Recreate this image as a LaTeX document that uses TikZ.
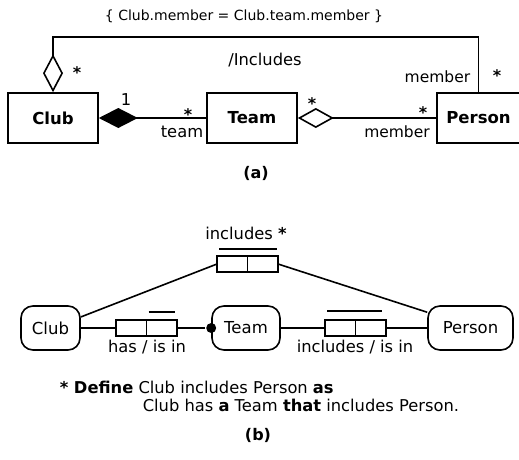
\documentclass[tikz,border=0pt]{standalone}
\usepackage{fontspec}
\setmainfont{DejaVu Sans}
\usetikzlibrary{arrows.meta,positioning}
\begin{document}
\begin{tikzpicture}[x=1pt,y=-1pt,line width=1.6pt,
  cls/.style={draw,minimum width=90pt,minimum height=50pt,inner sep=0pt,
              font=\fontsize{16.5}{18}\selectfont\bfseries},
  obj/.style={draw,rounded corners=12pt,minimum height=44pt,inner sep=0pt,
              font=\fontsize{16.5}{18}\selectfont},
  cell/.style={draw,minimum width=30.5pt,minimum height=16pt,inner sep=0pt,outer sep=0pt},
  lbl/.style={inner sep=0pt,font=\fontsize{16.3}{18}\selectfont},
  star/.style={inner sep=0pt,font=\fontsize{16}{18}\selectfont\bfseries},
  capt/.style={inner sep=0pt,font=\fontsize{16}{18}\selectfont\bfseries},
]
\useasboundingbox (0,0) rectangle (519,460);
\node[lbl,font=\fontsize{14}{16}\selectfont] (rule) at (244,16) {\{ Club.member = Club.team.member \}};
\node[cls] (club) at (53,118) {Club};
\node[cls] (team) at (252,118) {Team};
\node[cls,minimum width=83pt] (person) at (478.5,118) {Person};
\coordinate (incl) at (265,37);
\draw[-{Diamond[open,length=38pt,width=20pt]}] (person.north) |- (incl) -| (club.north);
\draw[{Diamond[length=39pt,width=20pt]}-] (club) -- (team);
\draw[{Diamond[open,length=36pt,width=20pt]}-] (team) -- (person);
\node[star] (s1) at (77,73) {*};
\node[lbl] (inclname) at (265,60) {/Includes};
\node[lbl,anchor=east,font=\fontsize{15.5}{18}\selectfont] (role1) at (471,77) {member};
\node[star] (s2) at (497,76) {*};
\node[lbl] (one) at (126,100) {1};
\node[star] (s3) at (188,115) {*};
\node[lbl] (role2) at (182,132) {team};
\node[star] (s4) at (312,104) {*};
\node[star] (s5) at (423,113) {*};
\node[lbl,font=\fontsize{15.5}{18}\selectfont] (role3) at (397,132) {member};
\node[capt] (capa) at (256,173) {(a)};

\node[lbl] (inctxt) at (246,233) {includes \textbf{*}};
\node[cell] (incA) at (232.25,264) {};
\node[cell,right=0pt of incA] (incB) {};
\draw ([xshift=2pt,yshift=7pt]incA.north west) -- ([xshift=-1pt,yshift=7pt]incB.north east);
\node[obj,minimum width=59pt] (bclub) at (50.5,328) {Club};
\node[obj,minimum width=68pt] (bteam) at (246,328) {Team};
\node[obj,minimum width=85pt] (bperson) at (470.5,328) {Person};
\node[cell] (hasA) at (131.25,328) {};
\node[cell,right=0pt of hasA] (hasB) {};
\draw ([xshift=2pt,yshift=8pt]hasB.north west) -- ([xshift=-2pt,yshift=8pt]hasB.north east);
\node[cell] (memA) at (340.25,328) {};
\node[cell,right=0pt of memA] (memB) {};
\draw ([xshift=2pt,yshift=9pt]memA.north west) -- ([xshift=-4pt,yshift=9pt]memB.north east);
\node[circle,fill,minimum size=10pt,inner sep=0pt] (dot) at (bteam.west) {};
\draw (bclub) -- (hasA);
\draw (hasB) -- (dot);
\draw (bteam) -- (memA);
\draw (memB) -- (bperson);
\draw (bclub.20) -- (incA.west);
\draw (incB.east) -- (bperson.160);
\node[lbl] (hasname) at (147,347) {has / is in};
\node[lbl] (memname) at (355,347) {includes / is in};

\node[lbl,anchor=west] (def1) at (59,387) {\textbf{* Define} Club includes Person \textbf{as}};
\node[lbl,anchor=west] (def2) at (142,405) {Club has \textbf{a} Team \textbf{that} includes Person.};
\node[capt] (capb) at (258,435) {(b)};
\end{tikzpicture}
\end{document}
